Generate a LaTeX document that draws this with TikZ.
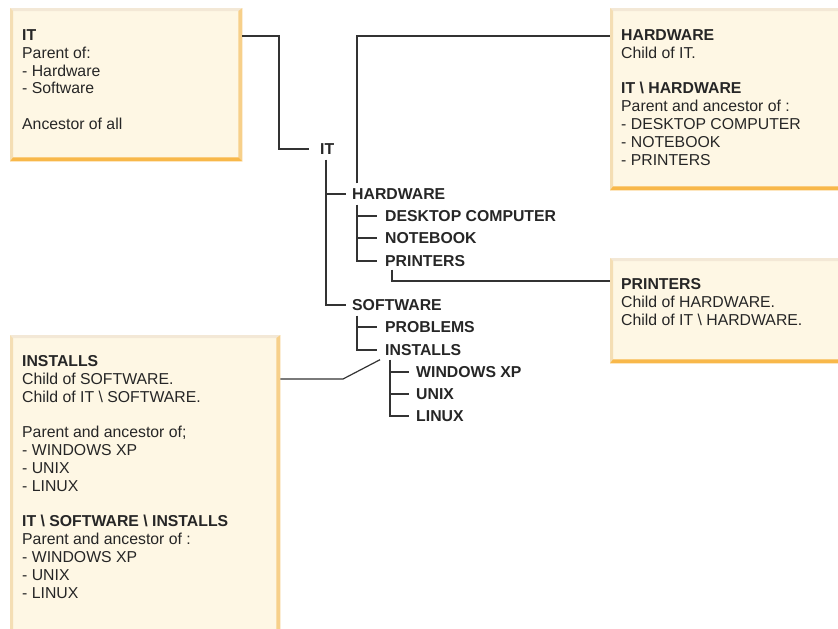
\documentclass[tikz,border=0pt]{standalone}
\usepackage{fontspec}
\setmainfont{Liberation Sans}
\usepackage{tikz}
\usetikzlibrary{calc}
\definecolor{boxfill}{RGB}{254,247,228}
\definecolor{edgetop}{RGB}{243,232,214}
\definecolor{edgeleft}{RGB}{244,222,180}
\definecolor{edgeright}{RGB}{247,208,138}
\definecolor{edgebottom}{RGB}{248,184,74}
\definecolor{treeline}{RGB}{51,51,51}

% bevelled edges of a note box
\newcommand{\bevel}[1]{%
  \fill[edgetop] (#1.north west) -- (#1.north east) -- ([xshift=-4,yshift=-3]#1.north east)
       -- ([xshift=3,yshift=-3]#1.north west) -- cycle;
  \fill[edgeleft] (#1.north west) -- ([xshift=3,yshift=-3]#1.north west)
       -- ([xshift=3,yshift=4]#1.south west) -- (#1.south west) -- cycle;
  \fill[edgeright] (#1.north east) -- (#1.south east) -- ([xshift=-4,yshift=4]#1.south east)
       -- ([xshift=-4,yshift=-3]#1.north east) -- cycle;
  \fill[edgebottom] (#1.south west) -- ([xshift=3,yshift=4]#1.south west)
       -- ([xshift=-4,yshift=4]#1.south east) -- (#1.south east) -- cycle;}

\begin{document}
\begin{tikzpicture}[x=1pt,y=-1pt,
    notebox/.style={fill=boxfill,inner sep=0,anchor=north west},
    notetext/.style={anchor=north west,inner sep=0,align=left,text=black!85,
                     font=\fontsize{15.8}{17.8}\selectfont},
    label/.style={anchor=west,inner sep=0,text height=11pt,text depth=0pt,
                  text=black!85,font=\fontsize{15.8}{17.8}\selectfont\bfseries},
    tree/.style={draw=treeline,line width=1.2pt}]
  \useasboundingbox (0,0) rectangle (838,629);
  \clip (0,0) rectangle (838,629);

  % note boxes
  \node[notebox,minimum width=232,minimum height=153] (itbox)   at (10,8)   {};
  \node[notebox,minimum width=232,minimum height=182] (hwbox)   at (610,8)  {};
  \node[notebox,minimum width=232,minimum height=105] (prnbox)  at (610,258) {};
  \node[notebox,minimum width=270,minimum height=310] (instbox) at (10,335) {};
  \bevel{itbox} \bevel{hwbox} \bevel{prnbox} \bevel{instbox}

  \node[notetext] at ([xshift=12,yshift=-21.5]itbox.north west)
       {\textbf{IT}\\Parent of:\\- Hardware\\- Software\\[17.8pt]Ancestor of all};
  \node[notetext] at ([xshift=11,yshift=-21.5]hwbox.north west)
       {\textbf{HARDWARE}\\Child of IT.\\[17.8pt]\textbf{IT \textbackslash\ HARDWARE}\\
        Parent and ancestor of :\\- DESKTOP COMPUTER\\- NOTEBOOK\\- PRINTERS};
  \node[notetext] at ([xshift=11,yshift=-20.5]prnbox.north west)
       {\textbf{PRINTERS}\\Child of HARDWARE.\\Child of IT \textbackslash\ HARDWARE.};
  \node[notetext] at ([xshift=12,yshift=-20.5]instbox.north west)
       {\textbf{INSTALLS}\\Child of SOFTWARE.\\Child of IT \textbackslash\ SOFTWARE.\\[17.8pt]
        Parent and ancestor of;\\- WINDOWS XP\\- UNIX\\- LINUX\\[17.8pt]
        \textbf{IT \textbackslash\ SOFTWARE \textbackslash\ INSTALLS}\\
        Parent and ancestor of :\\- WINDOWS XP\\- UNIX\\- LINUX};

  % tree
  \node[label] (it)    at (320,149) {IT};
  \node[label] (hw)    at (352,194) {HARDWARE};
  \node[label] (desk)  at (385,216) {DESKTOP COMPUTER};
  \node[label] (note)  at (385,238) {NOTEBOOK};
  \node[label] (prn)   at (385,261) {PRINTERS};
  \node[label] (sw)    at (352,305) {SOFTWARE};
  \node[label] (prob)  at (385,327) {PROBLEMS};
  \node[label] (inst)  at (385,350) {INSTALLS};
  \node[label] (win)   at (416,372) {WINDOWS XP};
  \node[label] (unix)  at (416,394) {UNIX};
  \node[label] (linux) at (416,416) {LINUX};

  \draw[tree] ([yshift=-28]itbox.north east) -| ([xshift=-41]it.west) -- ([xshift=-11]it.west);
  \draw[tree] ([xshift=6,yshift=-5]it.south west) |- ([xshift=-6]sw.west);
  \draw[tree] ([xshift=-26]hw.west) -- ([xshift=-6]hw.west);

  \draw[tree] ([xshift=5,yshift=-5]hw.south west) |- ([xshift=-8]prn.west);
  \draw[tree] ([xshift=-28]desk.west) -- ([xshift=-8]desk.west);
  \draw[tree] ([xshift=-28]note.west) -- ([xshift=-8]note.west);
  \draw[tree] ([xshift=5,yshift=5]hw.north west) |- ([yshift=-28]hwbox.north west);
  \draw[tree] ([xshift=7,yshift=-3]prn.south west) |- ([yshift=-23]prnbox.north west);

  \draw[tree] ([xshift=5,yshift=-5]sw.south west) |- ([xshift=-8]inst.west);
  \draw[tree] ([xshift=-28]prob.west) -- ([xshift=-8]prob.west);

  \draw[tree] ([xshift=5,yshift=-4]inst.south west) |- ([xshift=-7]linux.west);
  \draw[tree] ([xshift=-26]win.west) -- ([xshift=-7]win.west);
  \draw[tree] ([xshift=-26]unix.west) -- ([xshift=-7]unix.west);
  \coordinate (bend) at (343,379);
  \draw[tree] ([xshift=-5,yshift=-4]inst.south west) -- (bend) -- ([yshift=-44]instbox.north east);
\end{tikzpicture}
\end{document}
